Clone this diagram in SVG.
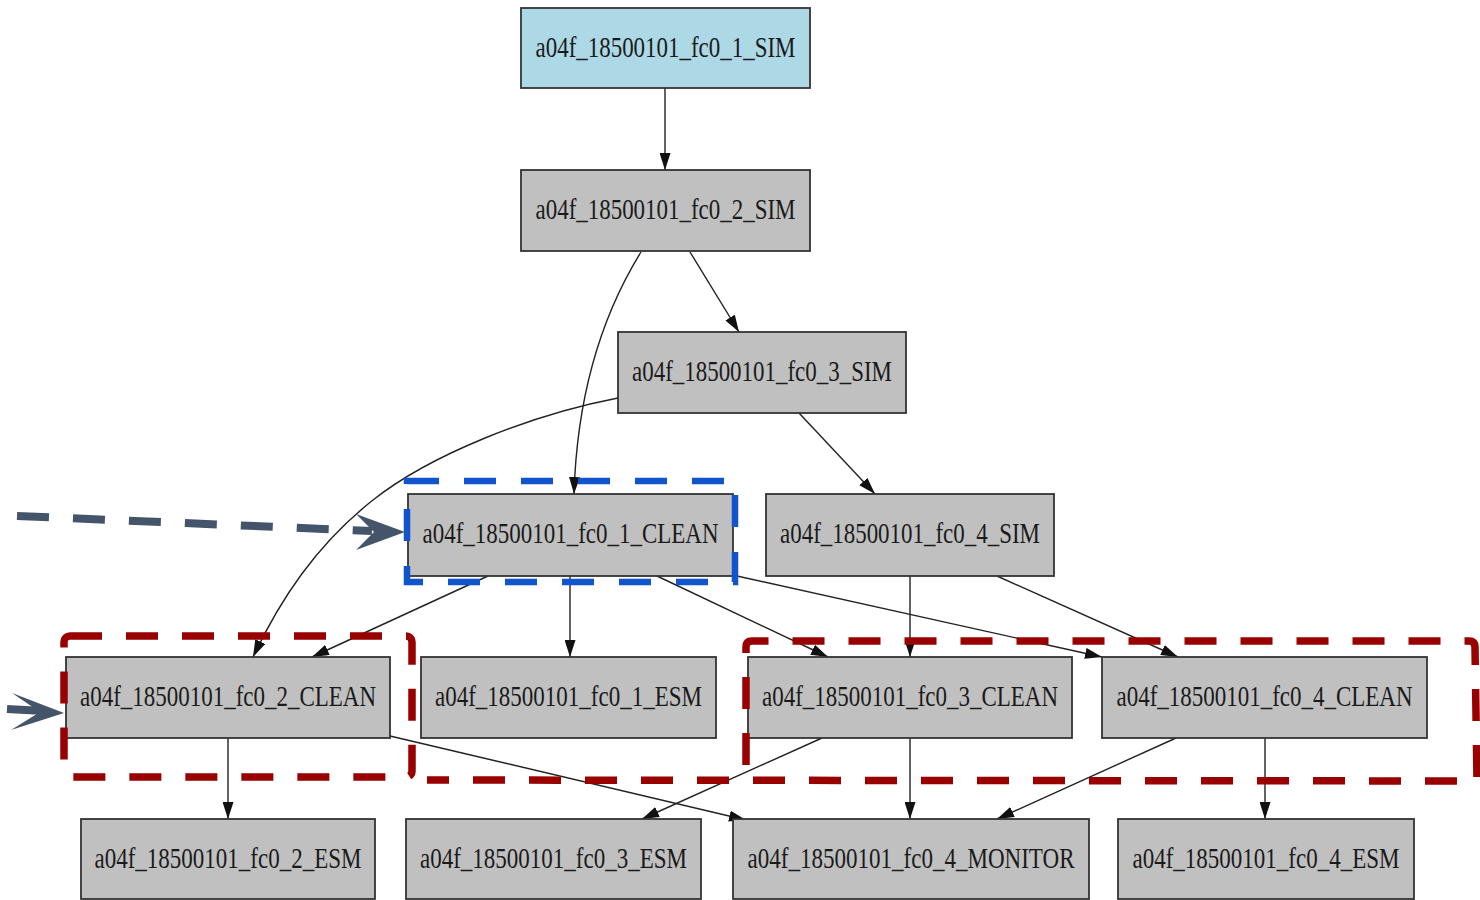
<svg xmlns="http://www.w3.org/2000/svg" width="1480" height="900" viewBox="0 0 1480 900">
<defs>
<style>
.node rect{fill:#c0c0c0;stroke:#333;stroke-width:1.8}
.node.start rect{fill:#add8e6}
.node text{font-family:"Liberation Serif","Times New Roman",serif;font-size:29px;fill:#1a1a1a;text-anchor:middle}
.edge{fill:none;stroke:#222;stroke-width:1.4;marker-end:url(#arr)}
.red{fill:none;stroke:#990000;stroke-width:7.5;stroke-dasharray:32 24;stroke-linejoin:round}
.blue{fill:none;stroke:#1155cc;stroke-width:6.5;stroke-dasharray:32 25}
.pointer{fill:#44546a}
</style>
<marker id="arr" markerUnits="userSpaceOnUse" markerWidth="17" markerHeight="11" refX="17" refY="5.5" orient="auto">
<path d="M0,0 L17,5.5 L0,11 Z" fill="#111"/>
</marker>
</defs>
<rect width="1480" height="900" fill="#fff"/>

<g id="connectors">
<path class="edge" d="M665,88 L665,170"/>
<path class="edge" d="M690,252 L739,332"/>
<path class="edge" d="M641,252 C602,315 577,395 574,494"/>
<path class="edge" d="M618,398 C530,415 430,455 373,500 S280,600 253,657"/>
<path class="edge" d="M799,413 L875,494"/>
<path class="edge" d="M488,576 L312,657"/>
<path class="edge" d="M570,576 L570,657"/>
<path class="edge" d="M657,576 L828,657"/>
<path class="edge" d="M737,576 L1102,657"/>
<path class="edge" d="M910,576 L910,657"/>
<path class="edge" d="M997,576 L1178,657"/>
<path class="edge" d="M228,738 L228,819"/>
<path class="edge" d="M390,736 L746,820"/>
<path class="edge" d="M822,738 L642,819"/>
<path class="edge" d="M910,738 L910,819"/>
<path class="edge" d="M1176,738 L997,819"/>
<path class="edge" d="M1265,738 L1265,819"/>
</g>

<g id="n_fc0_1_SIM" class="node start"><rect x="521" y="8" width="289" height="80"/><text x="665.5" y="57" textLength="260" lengthAdjust="spacingAndGlyphs">a04f_18500101_fc0_1_SIM</text></g>
<g id="n_fc0_2_SIM" class="node"><rect x="521" y="170" width="289" height="81"/><text x="665.5" y="219" textLength="260" lengthAdjust="spacingAndGlyphs">a04f_18500101_fc0_2_SIM</text></g>
<g id="n_fc0_3_SIM" class="node"><rect x="618" y="332" width="288" height="81"/><text x="762" y="381" textLength="260" lengthAdjust="spacingAndGlyphs">a04f_18500101_fc0_3_SIM</text></g>
<g id="n_fc0_1_CLEAN" class="node"><rect x="408" y="494" width="325" height="82"/><text x="570.5" y="543" textLength="296" lengthAdjust="spacingAndGlyphs">a04f_18500101_fc0_1_CLEAN</text></g>
<g id="n_fc0_4_SIM" class="node"><rect x="766" y="494" width="288" height="82"/><text x="910" y="543" textLength="260" lengthAdjust="spacingAndGlyphs">a04f_18500101_fc0_4_SIM</text></g>
<g id="n_fc0_2_CLEAN" class="node"><rect x="66" y="657" width="324" height="81"/><text x="228" y="706" textLength="296" lengthAdjust="spacingAndGlyphs">a04f_18500101_fc0_2_CLEAN</text></g>
<g id="n_fc0_1_ESM" class="node"><rect x="421" y="657" width="295" height="81"/><text x="568.5" y="706" textLength="267" lengthAdjust="spacingAndGlyphs">a04f_18500101_fc0_1_ESM</text></g>
<g id="n_fc0_3_CLEAN" class="node"><rect x="748" y="657" width="324" height="81"/><text x="910" y="706" textLength="296" lengthAdjust="spacingAndGlyphs">a04f_18500101_fc0_3_CLEAN</text></g>
<g id="n_fc0_4_CLEAN" class="node"><rect x="1102" y="657" width="325" height="81"/><text x="1264.5" y="706" textLength="296" lengthAdjust="spacingAndGlyphs">a04f_18500101_fc0_4_CLEAN</text></g>
<g id="n_fc0_2_ESM" class="node"><rect x="81" y="819" width="294" height="80"/><text x="228" y="868" textLength="267" lengthAdjust="spacingAndGlyphs">a04f_18500101_fc0_2_ESM</text></g>
<g id="n_fc0_3_ESM" class="node"><rect x="406" y="819" width="295" height="80"/><text x="553.5" y="868" textLength="267" lengthAdjust="spacingAndGlyphs">a04f_18500101_fc0_3_ESM</text></g>
<g id="n_fc0_4_MONITOR" class="node"><rect x="733" y="819" width="356" height="80"/><text x="911" y="868" textLength="327" lengthAdjust="spacingAndGlyphs">a04f_18500101_fc0_4_MONITOR</text></g>
<g id="n_fc0_4_ESM" class="node"><rect x="1118" y="819" width="296" height="80"/><text x="1266" y="868" textLength="267" lengthAdjust="spacingAndGlyphs">a04f_18500101_fc0_4_ESM</text></g>

<g id="annotations">
<rect class="blue" x="407" y="481" width="328" height="101"/>
<rect class="red" x="64" y="636" width="348" height="141" rx="6"/>
<path class="red" d="M746,765 L746,647 Q746,641 752,641 L1469,641 Q1475,641 1475,647 L1477,781 L427,780"/>
<path d="M17,516 L372,531" fill="none" stroke="#44546a" stroke-width="8" stroke-dasharray="32 24"/>
<path class="pointer" d="M405,532 L356,514 L374,532 L356,550 Z"/>
<path d="M7,709 L44,711" fill="none" stroke="#44546a" stroke-width="8"/>
<path class="pointer" d="M64,713 L12,693 L40,712 L11,730 Z"/>
</g>
</svg>
